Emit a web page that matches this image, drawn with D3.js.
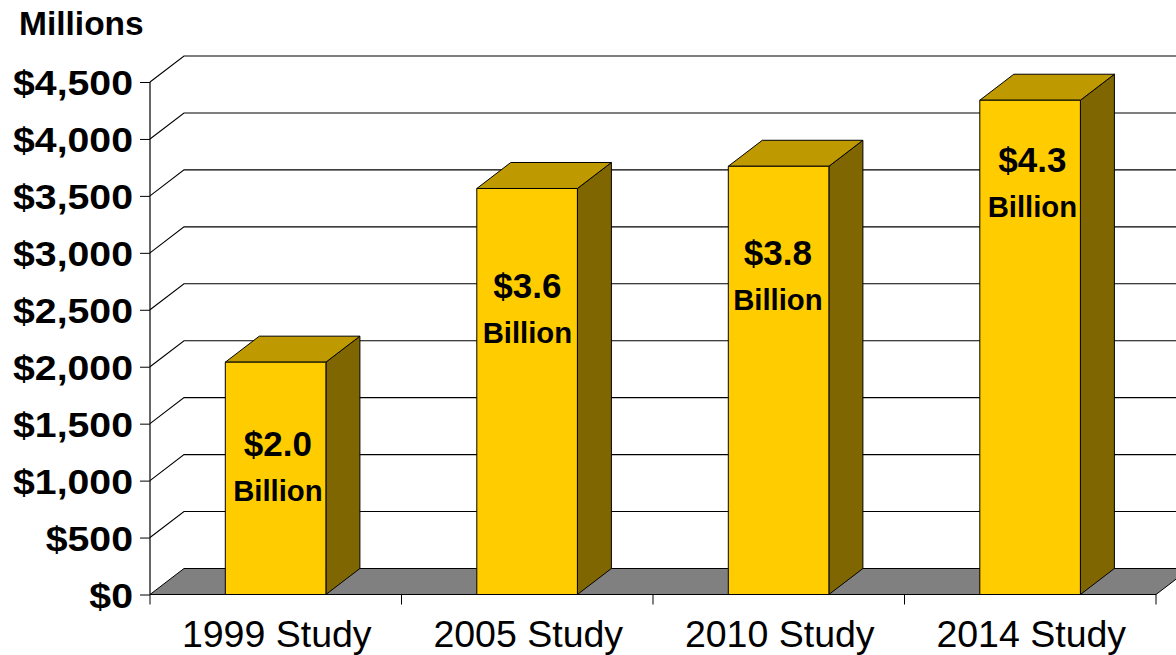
<!DOCTYPE html>
<html><head><meta charset="utf-8">
<script src="https://cdn.jsdelivr.net/npm/d3@7"></script>
<style>html,body{margin:0;padding:0;background:#fff}svg{display:block}text{font-family:"Liberation Sans",Arial,sans-serif;fill:#000}</style>
</head><body><svg id="c" width="1176" height="655"></svg>
<script>
const categories=["1999 Study","2005 Study","2010 Study","2014 Study"];
const studyValues=[2040,3565,3760,4340];
const valueLabels=["$2.0","$3.6","$3.8","$4.3"];
const unitLabel="Billion";
const axisTitle="Millions";
const yTicks=[0,500,1000,1500,2000,2500,3000,3500,4000,4500];

const svg=d3.select("#c");
const M={l:150,r:1156,t:82,b:594.5},DX=34,DY=-26;
const labelDrop=[94,110,99,72];
const labelShift=[2.3,0.3,-0.7,2.3];
const x=d3.scaleBand().domain(categories).range([M.l,M.r]).paddingInner(.6).paddingOuter(.3);
const y=d3.scaleLinear().domain([0,4500]).range([M.b,M.t]);
const step=x.step();

svg.append("polygon").attr("points",[[M.l,M.b],[M.l+DX,M.b+DY],[M.r+DX,M.b+DY],[M.r,M.b]].join(" "))
 .attr("fill","#808080").attr("stroke","#000").attr("stroke-width",1);

const grid=d3.line();
svg.append("g").selectAll("path").data(yTicks.filter(d=>d>0)).join("path")
 .attr("fill","none").attr("stroke","#000").attr("stroke-width",1.1)
 .attr("d",d=>grid([[M.l,y(d)],[M.l+DX,y(d)+DY],[M.r+DX,y(d)+DY]]));

const bars=svg.append("g").selectAll("g").data(categories).join("g");
const val=i=>studyValues[i];
bars.each(function(c,i){
  const g=d3.select(this),x0=x(c)-.15,x1=x0+x.bandwidth(),yt=y(val(i)),yb=y(0);
  const st={stroke:"#000","stroke-width":1,"stroke-linejoin":"round"};
  const poly=(pts,fill)=>{const p=g.append("polygon").attr("points",pts.join(" ")).attr("fill",fill);Object.entries(st).forEach(([k,v])=>p.attr(k,v));};
  poly([[x1,yb],[x1+DX,yb+DY],[x1+DX,yt+DY],[x1,yt]],"#806600");
  poly([[x0,yt],[x0+DX,yt+DY],[x1+DX,yt+DY],[x1,yt]],"#BF9900");
  poly([[x0,yt],[x1,yt],[x1,yb],[x0,yb]],"#FFCC00");
  const cx=(x0+x1)/2+labelShift[i];
  g.append("text").attr("x",cx).attr("y",yt+labelDrop[i]-.5).attr("text-anchor","middle")
   .attr("font-weight","bold").attr("font-size",35).text(valueLabels[i]);
  g.append("text").attr("x",cx).attr("y",yt+labelDrop[i]+45).attr("text-anchor","middle")
   .attr("font-weight","bold").attr("font-size",29.3).text(unitLabel);
});

const ay=svg.append("g").attr("transform",`translate(${M.l},0)`)
 .call(d3.axisLeft(y).tickValues(yTicks).tickSize(10).tickPadding(6).tickFormat(d=>"$"+d3.format(",")(d)));
ay.select(".domain").attr("stroke","#000").attr("stroke-width",1.2).attr("d",`M0,${M.t}V${M.b}`);
ay.selectAll(".tick line").attr("stroke","#000");
ay.selectAll(".tick text").attr("font-family",null).attr("font-weight","bold").attr("font-size",36)
  .attr("dy","0.36em").attr("x",-17/1.09).attr("transform","scale(1.09,1)");

const ax=svg.append("g").attr("transform",`translate(0,${M.b})`)
 .call(d3.axisBottom(x).tickSize(0).tickPadding(26));
ax.select(".domain").attr("stroke","#000").attr("stroke-width",1.2).attr("d",`M${M.l},0H${M.r}`);
ax.selectAll(".tick text").attr("font-size",37.5).attr("dy","0.71em").attr("x",1);
ax.selectAll(".bt").data(d3.range(categories.length+1)).join("line").attr("class","bt")
 .attr("x1",i=>M.l+i*step).attr("x2",i=>M.l+i*step).attr("y1",0).attr("y2",10).attr("stroke","#000");

svg.append("text").attr("x",19).attr("y",35).attr("font-weight","bold").attr("font-size",33.5).text(axisTitle);
</script></body></html>
